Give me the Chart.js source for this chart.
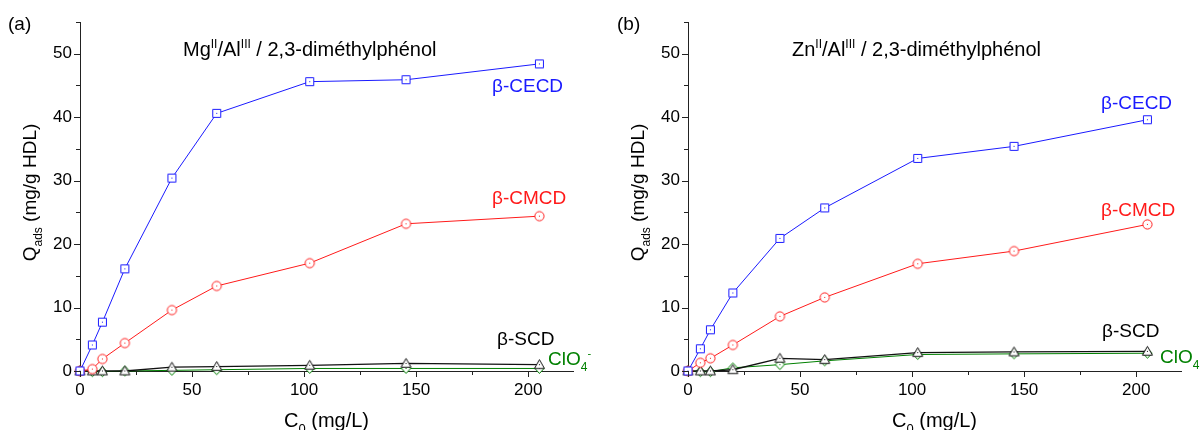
<!DOCTYPE html>
<html>
<head>
<meta charset="utf-8">
<script src="https://cdn.jsdelivr.net/npm/chart.js@4.4.1/dist/chart.umd.min.js"></script>
<style>
  html, body { margin: 0; padding: 0; background: #fff; }
  #wrap { position: relative; width: 1200px; height: 430px; overflow: hidden; }
  .panel { position: absolute; top: 0; width: 600px; height: 430px; }
  canvas { display: block; }
</style>
</head>
<body>
<div id="wrap">
  <div class="panel" style="left:0"><canvas id="ca" width="600" height="430"></canvas></div>
  <div class="panel" style="left:600px"><canvas id="cb" width="600" height="430"></canvas></div>
</div>
<script>
// ---------- data ----------
const C0 = [0, 5.5, 10, 20, 41, 61, 102.5, 145.5, 205];          // mg/L
// (a) Mg/Al
const CECD_A = [0, 4.1, 7.7, 16.1, 30.4, 40.6, 45.6, 45.9, 48.4];
const CMCD_A = [0, 0.3, 1.9, 4.4, 9.6, 13.4, 17.0, 23.2, 24.4];
const SCD_A  = [0, 0, 0, 0, 0.6, 0.7, 0.9, 1.2, 1.0];
const CLO4_A = [0, -0.1, -0.1, 0, 0.1, 0.2, 0.4, 0.4, 0.4];
// (b) Zn/Al
const CECD_B = [0, 3.5, 6.5, 12.3, 20.9, 25.7, 33.5, 35.4, 39.6];
const CMCD_B = [0, 1.3, 2.0, 4.1, 8.6, 11.6, 16.9, 18.9, 23.1];
const SCD_B  = [0, 0, 0, 0.2, 2.0, 1.8, 2.9, 3.0, 3.1];
const CLO4_B = [0, -0.1, -0.1, 0.5, 1.0, 1.6, 2.6, 2.7, 2.8];

const X_MIN = 0, X_MAX = 220, X_STEP = 25, X_MAJOR = 50;
const Y_MIN = 0, Y_MAX = 55, Y_STEP = 5, Y_MAJOR = 10;

const FONT = '"Liberation Sans", Arial, Helvetica, sans-serif';
const BLUE = '#1a1aff', RED = '#ff1a1a', BLACK = '#000000', GREEN = '#008000';

// ---------- markers ----------
function marker(shape, color) {
  const c = document.createElement('canvas');
  c.width = 13; c.height = 13;
  const g = c.getContext('2d');
  g.strokeStyle = color; g.fillStyle = '#fff'; g.lineWidth = 1;
  g.beginPath();
  if (shape === 'square') { g.rect(2.5, 2.5, 8, 8); }
  else if (shape === 'circle') { g.arc(6.5, 6.5, 4.6, 0, Math.PI * 2); }
  else if (shape === 'triangle') { g.moveTo(6.5, 1.5); g.lineTo(11.5, 10.3); g.lineTo(1.5, 10.3); g.closePath(); }
  else if (shape === 'diamond') { g.moveTo(6.5, 1.5); g.lineTo(11, 6.5); g.lineTo(6.5, 11.5); g.lineTo(2, 6.5); g.closePath(); }
  g.fill(); g.stroke();
  g.fillStyle = color; g.fillRect(6, 6, 1, 1);
  return c;
}

function ds(label, ys, color, shape, width) {
  return {
    label, data: C0.map((x, i) => ({ x, y: ys[i] })),
    borderColor: color, borderWidth: width || 1, backgroundColor: color,
    pointStyle: marker(shape, color), pointRadius: 6, showLine: true, clip: false, tension: 0
  };
}

// ---------- text helpers ----------
function drawRuns(ctx, runs, x, y, size, color, measureOnly) {
  let cx = x;
  for (const r of runs) {
    let fs = size, dy = 0;
    if (r.s === 'sup') { fs = Math.round(size * 0.6); dy = -size * 0.40; }
    if (r.s === 'sub') { fs = Math.round(size * 0.65); dy = size * 0.30; }
    ctx.font = fs + 'px ' + FONT;
    if (!measureOnly) { ctx.fillStyle = color; ctx.fillText(r.t, cx, y + dy); }
    cx += ctx.measureText(r.t).width;
  }
  return cx - x;
}

const decoPlugin = {
  id: 'deco',
  afterDraw(chart, args, opts) {
    const ctx = chart.ctx, ca = chart.chartArea;
    const xs = chart.scales.x, ys = chart.scales.y;
    ctx.save();
    // tick marks (major / minor)
    ctx.strokeStyle = '#222'; ctx.lineWidth = 1;
    ctx.beginPath();
    xs.ticks.forEach(t => {
      const px = Math.round(xs.getPixelForValue(t.value)) + 0.5;
      const len = (t.value % X_MAJOR === 0) ? 6 : 4;
      ctx.moveTo(px, ca.bottom); ctx.lineTo(px, ca.bottom + len);
    });
    ys.ticks.forEach(t => {
      const py = Math.round(ys.getPixelForValue(t.value)) + 0.5;
      const len = (t.value % Y_MAJOR === 0) ? 6 : 4;
      ctx.moveTo(ca.left, py); ctx.lineTo(ca.left - len, py);
    });
    ctx.stroke();
    ctx.textAlign = 'left'; ctx.textBaseline = 'alphabetic';
    // free labels
    (opts.labels || []).forEach(l => drawRuns(ctx, l.runs, l.x, l.y, l.size, l.color));
    // x title
    const xt = [{ t: 'C' }, { t: '0', s: 'sub' }, { t: ' (mg/L)' }];
    const w = drawRuns(ctx, xt, 0, 0, 20, '#000', true);
    drawRuns(ctx, xt, (ca.left + ca.right) / 2 - w / 2, 427, 20, '#000');
    // y title
    const yt = [{ t: 'Q' }, { t: 'ads', s: 'sub' }, { t: ' (mg/g HDL)' }];
    const wy = drawRuns(ctx, yt, 0, 0, 19, '#000', true);
    ctx.translate(opts.yTitleX, (ca.top + ca.bottom) / 2 - 4);
    ctx.rotate(-Math.PI / 2);
    drawRuns(ctx, yt, -wy / 2, 0, 19, '#000');
    ctx.restore();
  }
};

function makeChart(id, series, axisLeft, padRight, yTitleX, labels) {
  const [cecd, cmcd, scd, clo4] = series;
  return new Chart(document.getElementById(id), {
    type: 'scatter',
    data: {
      datasets: [
        ds('β-CECD', cecd, BLUE, 'square'),
        ds('β-CMCD', cmcd, RED, 'circle'),
        ds('β-SCD', scd, '#111', 'triangle', 1.3),
        ds('ClO4-', clo4, GREEN, 'diamond')
      ]
    },
    options: {
      responsive: false, animation: false, devicePixelRatio: 1,
      layout: { padding: { top: 22, right: padRight, left: 0, bottom: 0 } },
      plugins: { legend: { display: false }, tooltip: { enabled: false }, deco: { labels, yTitleX } },
      scales: {
        x: {
          type: 'linear', min: X_MIN, max: X_MAX,
          afterFit(s) { s.height = 59; },
          border: { display: true, color: '#222', width: 1 },
          grid: { display: true, drawOnChartArea: false, drawTicks: false, color: 'rgba(0,0,0,0)' },
          ticks: {
            stepSize: X_STEP, includeBounds: false, autoSkip: false, maxRotation: 0, padding: 9,
            color: '#000', font: { family: FONT, size: 17 },
            callback: v => (v % X_MAJOR === 0 ? String(v) : '')
          }
        },
        y: {
          type: 'linear', min: Y_MIN, max: Y_MAX,
          afterFit(s) { s.width = axisLeft; },
          border: { display: true, color: '#222', width: 1 },
          grid: { display: true, drawOnChartArea: false, drawTicks: false, color: 'rgba(0,0,0,0)' },
          ticks: {
            stepSize: Y_STEP, includeBounds: false, autoSkip: false, padding: 8,
            color: '#000', font: { family: FONT, size: 17 },
            callback: v => (v % Y_MAJOR === 0 ? String(v) : '')
          }
        }
      }
    },
    plugins: [decoPlugin]
  });
}

function titleRuns(metal) {
  return [{ t: metal }, { t: 'II', s: 'sup' }, { t: '/Al' }, { t: 'III', s: 'sup' }, { t: ' / 2,3-diméthylphénol' }];
}
const clo4Runs = [{ t: 'ClO' }, { t: '4', s: 'sub' }, { t: '-', s: 'sup' }];

makeChart('ca', [CECD_A, CMCD_A, SCD_A, CLO4_A], 80, 27, 36, [
  { runs: [{ t: '(a)' }], x: 8, y: 30, size: 19, color: '#000' },
  { runs: titleRuns('Mg'), x: 183, y: 56, size: 20, color: '#000' },
  { runs: [{ t: 'β-CECD' }], x: 492, y: 92, size: 19, color: BLUE },
  { runs: [{ t: 'β-CMCD' }], x: 492, y: 204, size: 19, color: RED },
  { runs: [{ t: 'β-SCD' }], x: 497, y: 345, size: 19, color: BLACK },
  { runs: clo4Runs, x: 548, y: 365, size: 19, color: GREEN }
]);
makeChart('cb', [CECD_B, CMCD_B, SCD_B, CLO4_B], 88, 19, 44, [
  { runs: [{ t: '(b)' }], x: 17, y: 30, size: 19, color: '#000' },
  { runs: titleRuns('Zn'), x: 192, y: 56, size: 20, color: '#000' },
  { runs: [{ t: 'β-CECD' }], x: 501, y: 109, size: 19, color: BLUE },
  { runs: [{ t: 'β-CMCD' }], x: 501, y: 216, size: 19, color: RED },
  { runs: [{ t: 'β-SCD' }], x: 502, y: 337, size: 19, color: BLACK },
  { runs: clo4Runs, x: 560, y: 363, size: 19, color: GREEN }
]);
</script>
</body>
</html>
